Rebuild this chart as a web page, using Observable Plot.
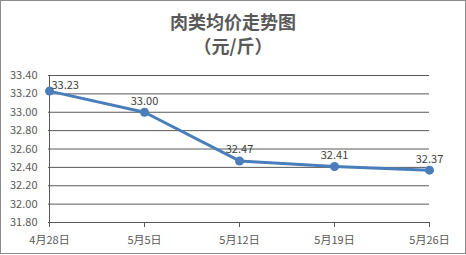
<!DOCTYPE html>
<html><head><meta charset="utf-8">
<script src="https://cdn.jsdelivr.net/npm/d3@7"></script>
<script src="https://cdn.jsdelivr.net/npm/@observablehq/plot@0.6"></script>
<style>
body{margin:0;background:#fff;}
#wrap{position:relative;width:466px;height:255px;overflow:hidden;background:#fff;font-family:"Noto Sans CJK SC","Noto Sans",sans-serif;}
#frame{position:absolute;left:0;top:0;width:464px;height:252px;border:1px solid #8c8c8c;pointer-events:none;}
#title{position:absolute;left:0;top:9px;width:466px;text-align:center;color:#595959;font-size:18px;font-weight:bold;line-height:24px;}
#chart{position:absolute;left:0;top:60px;}
</style></head>
<body><div id="wrap"><div id="title">肉类均价走势图<br>（元/斤）</div><div id="chart"></div><div id="frame"></div></div>
<script>
const dates = ["4月28日","5月5日","5月12日","5月19日","5月26日"];
const prices = [33.23, 33.00, 32.47, 32.41, 32.37];
const yTicks = [31.8, 32.0, 32.2, 32.4, 32.6, 32.8, 33.0, 33.2, 33.4];
const data = dates.map((d,i)=>({date:d, price:prices[i]}));
const first = data.slice(0,1), rest = data.slice(1);
const plot = Plot.plot({
  width:466, height:195,
  marginTop:15, marginBottom:33, marginLeft:48, marginRight:37,
  style:{fontFamily:'"Noto Sans CJK SC","Noto Sans",sans-serif', fontSize:"11px", color:"#595959", background:"transparent"},
  x:{type:"point", domain:dates, padding:0, label:null},
  y:{domain:[31.8,33.4], label:null},
  marks:[
    Plot.gridY(yTicks, {stroke:"#595959", strokeOpacity:1, strokeWidth:1}),
    Plot.ruleX([dates[0]], {stroke:"#595959"}),
    Plot.ruleY([31.8], {stroke:"#595959"}),
    Plot.axisY(yTicks, {tickSize:0, tickPadding:11, tickFormat:d=>d.toFixed(2), fill:"#595959", label:null}),
    Plot.axisX({tickSize:5, tickPadding:9, stroke:"#595959", fill:"#595959", label:null}),
    Plot.line(data, {x:"date", y:"price", stroke:"#4a7ebb", strokeWidth:3}),
    Plot.dot(data, {x:"date", y:"price", fill:"#4a7ebb", r:4.5}),
    Plot.text(first, {x:"date", y:"price", text:d=>d.price.toFixed(2), dx:2, dy:-6, textAnchor:"start", fill:"#404040", fontSize:11}),
    Plot.text(rest, {x:"date", y:"price", text:d=>d.price.toFixed(2), dy:-11, fill:"#404040", fontSize:11})
  ]
});
document.getElementById("chart").appendChild(plot);
</script></body></html>
